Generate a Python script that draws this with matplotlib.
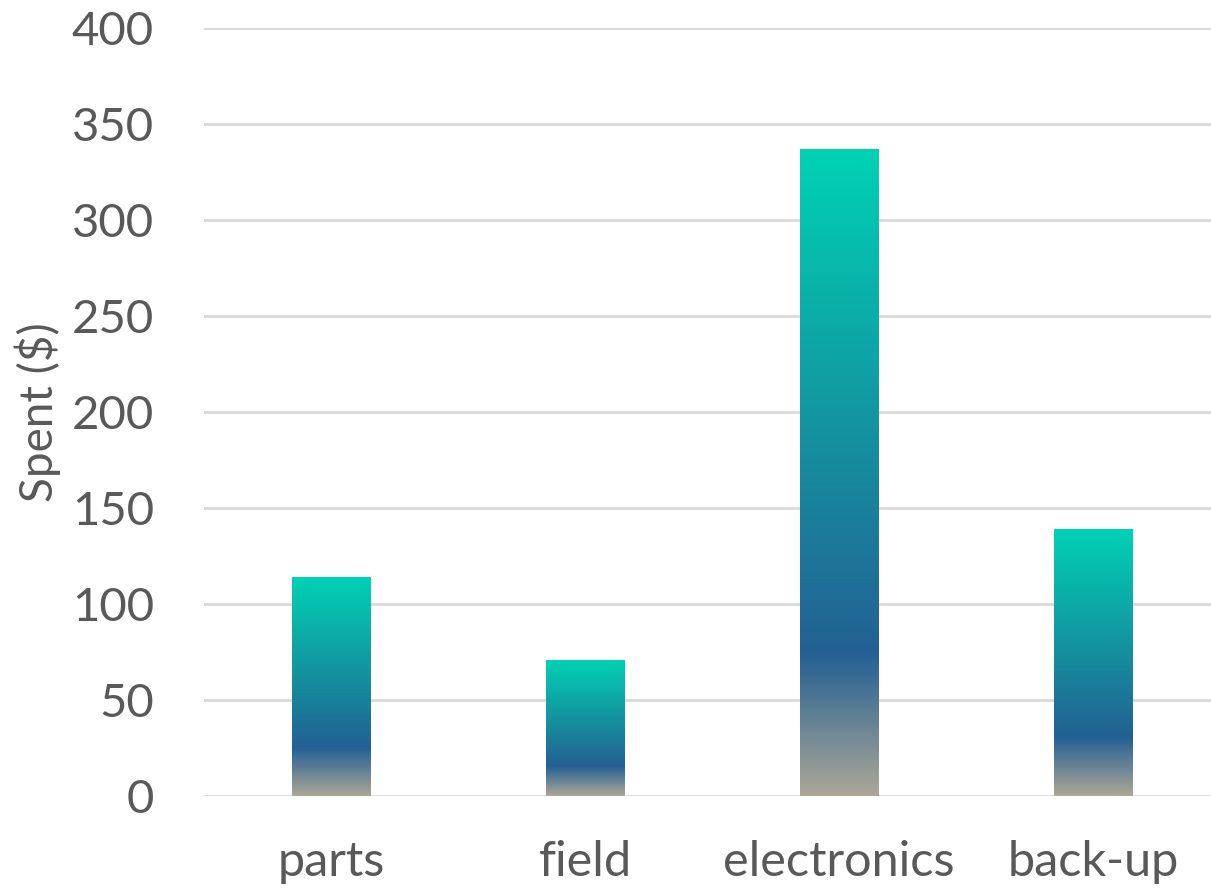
import matplotlib
matplotlib.use("Agg")
import matplotlib.pyplot as plt
import numpy as np
from matplotlib.colors import LinearSegmentedColormap

categories = ["parts", "field", "electronics", "back-up"]
spent = [114, 71, 337, 139]
y_ticks = [0, 50, 100, 150, 200, 250, 300, 350, 400]

text_color = "#595959"
grid_color = "#D9D9D9"

# bottom -> top colour ramp used inside each bar
bar_cmap = LinearSegmentedColormap.from_list(
    "bar_ramp",
    [(0.00, "#ABA796"),
     (0.22, "#236094"),
     (0.55, "#15919F"),
     (1.00, "#00D2B4")],
)

plt.rcParams["font.family"] = ["Lato", "DejaVu Sans"]

fig = plt.figure(figsize=(12.11, 8.91), dpi=100)
W, H = 1211, 891
ax = fig.add_axes([204 / W, (H - 796) / H, 1016 / W, 768 / H])

x = np.arange(len(categories))
bars = ax.bar(x, spent, width=0.31, color="none", edgecolor="none", zorder=3)

grad = np.linspace(0, 1, 256).reshape(-1, 1)
for b in bars:
    x0, w, h = b.get_x(), b.get_width(), b.get_height()
    im = ax.imshow(grad, cmap=bar_cmap, origin="lower", aspect="auto",
                   extent=(x0, x0 + w, 0, h), zorder=3, interpolation="bilinear")
    im.set_clip_path(b)

ax.set_xlim(-0.5, len(categories) - 0.5)
ax.set_ylim(0, 400)
ax.set_yticks(y_ticks)
ax.set_xticks(x)
ax.set_xticklabels(categories, fontsize=35)
ax.yaxis.grid(True, color=grid_color, linewidth=2, zorder=0)
ax.set_axisbelow(True)
for s in ax.spines.values():
    s.set_visible(False)
ax.tick_params(axis="both", length=0, colors=text_color)
ax.tick_params(axis="y", labelsize=34, pad=36)
ax.tick_params(axis="x", pad=32)
ax.set_ylabel("Spent ($)", color=text_color, fontsize=33)
ax.yaxis.set_label_coords(-143 / 1016, 0.5)

fig.savefig("out.png", dpi=100)
